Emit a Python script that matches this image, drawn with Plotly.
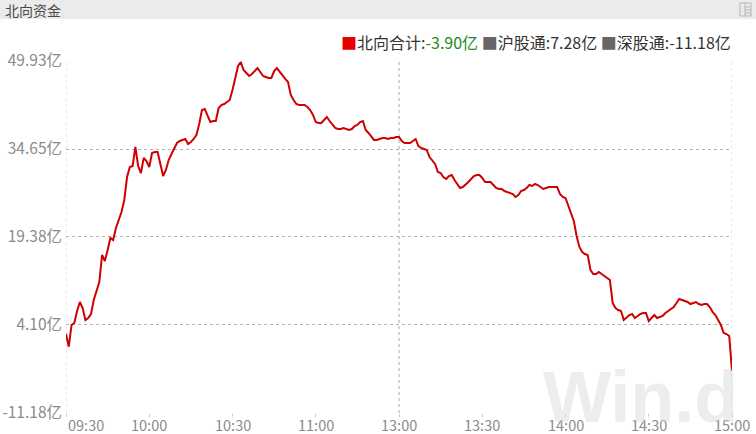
import plotly.graph_objects as go

# ---------------- data ----------------
title_text = "北向资金"
series_name = "北向合计"
total_value = "-3.90亿"
sh_label, sh_value = "沪股通", "7.28亿"
sz_label, sz_value = "深股通", "-11.18亿"

# one value per trading minute, 09:30 -> 11:30 and 13:00 -> 15:00 (241 points)
values = [
    2.53, 0.33, 4.10, 4.45, 6.53, 8.09, 7.05, 4.97, 5.31, 6.01,
    8.44, 9.82, 11.56, 16.25, 15.21, 17.12, 19.20, 18.86, 20.94, 22.33,
    23.71, 25.80, 29.79, 31.53, 31.70, 35.00, 31.70, 30.48, 33.09, 32.57,
    31.53, 33.96, 34.13, 34.13, 31.87, 29.96, 31.01, 32.74, 33.78, 34.83,
    35.69, 36.04, 36.22, 36.39, 35.52, 35.87, 36.39, 37.08, 38.99, 41.42,
    41.60, 40.56, 39.34, 39.51, 39.51, 41.77, 42.29, 42.46, 42.81, 43.16,
    44.90, 46.98, 49.06, 49.76, 48.37, 47.85, 47.33, 47.67, 48.19, 48.71,
    48.02, 47.33, 47.15, 46.98, 46.98, 48.19, 48.71, 48.02, 47.33, 46.81,
    46.28, 44.03, 43.16, 42.46, 42.29, 42.29, 42.29, 41.94, 41.42, 40.56,
    39.34, 39.17, 39.17, 39.69, 40.21, 39.51, 38.82, 38.30, 38.12, 38.12,
    38.30, 38.12, 37.95, 38.12, 38.64, 38.82, 39.34, 39.51, 37.95, 37.43,
    36.91, 36.22, 36.22, 36.39, 36.56, 36.56, 36.39, 36.56, 36.56, 36.74,
    36.74, 36.04, 35.69, 35.69, 35.69, 36.04, 36.39, 35.17, 34.83, 34.65,
    34.48, 33.26, 32.74, 32.05, 30.66, 30.48, 29.79, 29.44, 29.96, 30.14,
    29.27, 28.58, 27.88, 28.05, 28.58, 28.92, 29.44, 29.96, 30.14, 30.14,
    29.62, 28.92, 28.92, 28.92, 28.40, 27.88, 27.71, 27.71, 27.36, 27.19,
    27.01, 26.84, 26.32, 26.67, 27.36, 27.53, 27.88, 28.40, 28.23, 28.58,
    28.40, 28.05, 27.71, 27.88, 28.05, 28.05, 28.05, 28.05, 26.84, 26.32,
    26.15, 24.93, 23.54, 22.15, 19.55, 17.64, 16.77, 16.42, 16.25, 13.65,
    12.95, 12.95, 13.30, 12.95, 12.60, 12.26, 11.91, 7.92, 7.05, 6.70,
    6.53, 4.97, 5.49, 5.83, 6.01, 5.31, 5.66, 6.01, 6.18, 6.18,
    4.79, 5.31, 5.83, 5.31, 5.49, 5.66, 6.18, 6.53, 6.87, 7.22,
    7.92, 8.61, 8.44, 8.26, 8.09, 7.74, 7.92, 8.09, 7.74, 7.57,
    7.74, 7.74, 7.22, 6.35, 5.83, 4.97, 4.10, 2.71, 2.53, 2.19,
    -3.90,
]
minute_index = list(range(len(values)))

x_tick_pos = [0, 30, 60, 90, 120, 150, 180, 210, 240]
x_tick_labels = ["09:30", "10:00", "10:30", "11:00", "13:00", "13:30", "14:00", "14:30", "15:00"]
y_tick_vals = [-11.18, 4.10, 19.38, 34.65, 49.93]
y_tick_text = ["-11.18亿", "4.10亿", "19.38亿", "34.65亿", "49.93亿"]

# ---------------- layout helpers ----------------
W, H = 756, 434
L, R, T, B = 66, 24, 61, 21
PW, PH = W - L - R, H - T - B


def px_x(px):
    return (px - L) / PW


def px_y(py):
    return (H - B - py) / PH


FONT = "Noto Sans CJK SC, Microsoft YaHei, sans-serif"
LINE_RED = "#d00000"
LABEL_GRAY = "#8a8a8a"

fig = go.Figure()
fig.add_trace(go.Scatter(
    x=minute_index, y=values, mode="lines",
    line=dict(color=LINE_RED, width=2),
    hoverinfo="skip", showlegend=False,
))

shapes = []
# header bar
shapes.append(dict(type="rect", xref="paper", yref="paper",
                   x0=px_x(0), x1=px_x(W), y0=px_y(19), y1=px_y(0),
                   fillcolor="#ebebeb", line=dict(width=0), layer="below"))
# header icon
shapes.append(dict(type="rect", xref="paper", yref="paper",
                   x0=px_x(740), x1=px_x(751), y0=px_y(16), y1=px_y(3),
                   fillcolor="rgba(0,0,0,0)", line=dict(color="#b5b5b5", width=1)))
for yy in (7, 10, 13):
    shapes.append(dict(type="line", xref="paper", yref="paper",
                       x0=px_x(745), x1=px_x(751), y0=px_y(yy), y1=px_y(yy),
                       line=dict(color="#b5b5b5", width=1)))
shapes.append(dict(type="line", xref="paper", yref="paper",
                   x0=px_x(745), x1=px_x(745), y0=px_y(16), y1=px_y(3),
                   line=dict(color="#b5b5b5", width=1)))
# vertical grid lines
for xv, col in ((0, "#d5d5d5"), (120, "#a8a8a8"), (240, "#d5d5d5")):
    shapes.append(dict(type="line", xref="x", yref="paper", x0=xv, x1=xv, y0=0, y1=1,
                       line=dict(color=col, width=1, dash="dot"), layer="below"))

annotations = []
annotations.append(dict(text=title_text, xref="paper", yref="paper",
                        x=px_x(3), y=px_y(10), xanchor="left", yanchor="middle",
                        showarrow=False, font=dict(family=FONT, size=14, color="#4a4a4a")))
legend_html = (
    f'<span style="color:#e60000">■</span>{series_name}:'
    f'<span style="color:#1f8a1f">{total_value}</span> '
    f'<span style="color:#666666">■</span>{sh_label}:{sh_value} '
    f'<span style="color:#666666">■</span>{sz_label}:{sz_value}'
)
annotations.append(dict(text=legend_html, xref="paper", yref="paper",
                        x=px_x(733), y=px_y(42), xanchor="right", yanchor="middle",
                        showarrow=False, font=dict(family=FONT, size=16, color="#333333")))
for pos, lab in zip(x_tick_pos, x_tick_labels):
    annotations.append(dict(text=lab, xref="x", yref="paper", x=pos, y=0,
                            xanchor="left" if pos == 0 else "center", yanchor="top",
                            yshift=1, showarrow=False,
                            font=dict(family=FONT, size=14.5, color=LABEL_GRAY)))
# watermark
annotations.append(dict(text="<b>Win.d</b>", xref="paper", yref="paper",
                        x=px_x(640), y=px_y(397), xanchor="center", yanchor="middle",
                        showarrow=False,
                        font=dict(family="Liberation Sans, Arial, sans-serif", size=72,
                                  color="rgba(215,215,215,0.45)")))

fig.update_layout(
    width=W, height=H,
    margin=dict(l=L, r=R, t=T, b=B, pad=0, autoexpand=False),
    paper_bgcolor="white", plot_bgcolor="white",
    showlegend=False,
    font=dict(family=FONT, size=15, color=LABEL_GRAY),
    xaxis=dict(range=[0, 240], showgrid=False, zeroline=False, showline=False,
               showticklabels=False, tickvals=x_tick_pos, ticks="outside",
               ticklen=3, tickcolor="#cccccc", fixedrange=True, automargin=False),
    yaxis=dict(range=[-11.18, 49.93], tickvals=y_tick_vals, ticktext=y_tick_text,
               showgrid=True, gridcolor="#b3b3b3", griddash="dot", gridwidth=1,
               zeroline=False, showline=False, ticks="", ticklabelstandoff=3,
               automargin=False,
               tickfont=dict(family=FONT, size=15.5, color=LABEL_GRAY), fixedrange=True),
    shapes=shapes,
    annotations=annotations,
)

fig.write_html(
    "out.html",
    config={"displayModeBar": False},
    post_script="document.body.style.margin='0';document.body.style.overflow='hidden';",
)
